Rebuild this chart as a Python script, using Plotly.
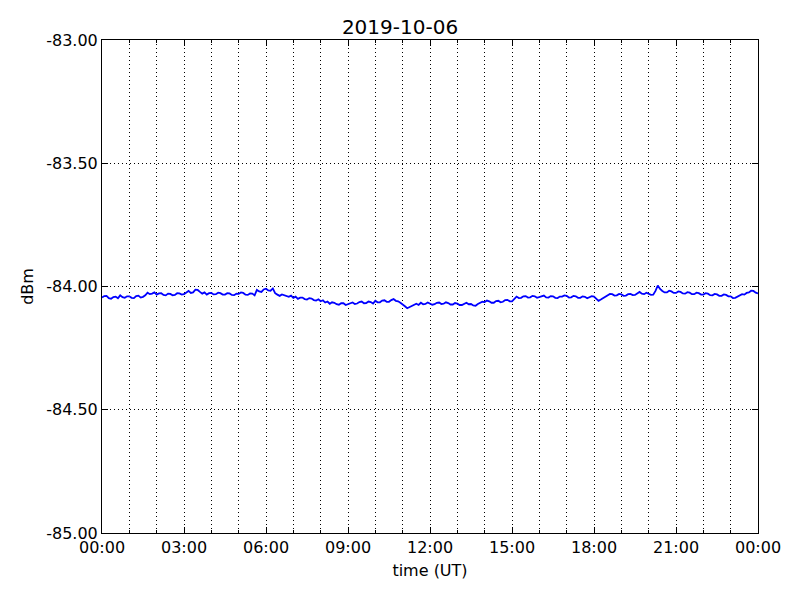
import plotly.graph_objects as go
import pandas as pd

title_text = "2019-10-06"
start_time = "2019-10-06 00:00"
end_time = "2019-10-07 00:00"

# 5-minute samples, one row per hour (dBm)
power_dbm = [
    -84.045, -84.039, -84.038, -84.047, -84.050, -84.043, -84.041, -84.048, -84.036, -84.043, -84.046, -84.040,
    -84.040, -84.046, -84.047, -84.039, -84.037, -84.045, -84.042, -84.036, -84.025, -84.031, -84.029, -84.024,
    -84.033, -84.028, -84.027, -84.034, -84.036, -84.029, -84.030, -84.036, -84.034, -84.027, -84.028, -84.033,
    -84.031, -84.025, -84.018, -84.026, -84.024, -84.013, -84.014, -84.022, -84.029, -84.024, -84.033, -84.027,
    -84.026, -84.032, -84.031, -84.025, -84.027, -84.033, -84.033, -84.027, -84.028, -84.034, -84.035, -84.029,
    -84.030, -84.024, -84.026, -84.033, -84.034, -84.028, -84.029, -84.036, -84.014, -84.020, -84.022, -84.012,
    -84.009, -84.016, -84.017, -84.008, -84.027, -84.033, -84.038, -84.032, -84.035, -84.041, -84.042, -84.037,
    -84.046, -84.041, -84.050, -84.045, -84.045, -84.051, -84.053, -84.047, -84.049, -84.055, -84.057, -84.052,
    -84.060, -84.056, -84.065, -84.061, -84.070, -84.064, -84.066, -84.072, -84.074, -84.068, -84.068, -84.075,
    -84.072, -84.066, -84.065, -84.071, -84.069, -84.063, -84.061, -84.068, -84.067, -84.061, -84.063, -84.069,
    -84.058, -84.064, -84.064, -84.057, -84.056, -84.062, -84.062, -84.055, -84.051, -84.058, -84.060, -84.066,
    -84.072, -84.080, -84.088, -84.083, -84.079, -84.073, -84.070, -84.075, -84.066, -84.072, -84.071, -84.065,
    -84.068, -84.074, -84.072, -84.066, -84.065, -84.071, -84.070, -84.064, -84.067, -84.073, -84.073, -84.067,
    -84.069, -84.075, -84.075, -84.069, -84.066, -84.072, -84.071, -84.077, -84.078, -84.071, -84.067, -84.062,
    -84.063, -84.057, -84.060, -84.066, -84.066, -84.059, -84.058, -84.064, -84.062, -84.055, -84.054, -84.060,
    -84.060, -84.050, -84.041, -84.047, -84.046, -84.040, -84.039, -84.045, -84.044, -84.038, -84.040, -84.046,
    -84.043, -84.037, -84.037, -84.044, -84.045, -84.039, -84.040, -84.046, -84.047, -84.041, -84.041, -84.036,
    -84.038, -84.045, -84.044, -84.038, -84.040, -84.046, -84.046, -84.040, -84.042, -84.048, -84.045, -84.039,
    -84.041, -84.050, -84.058, -84.053, -84.048, -84.040, -84.035, -84.030, -84.031, -84.037, -84.036, -84.030,
    -84.032, -84.038, -84.037, -84.031, -84.030, -84.035, -84.034, -84.028, -84.022, -84.029, -84.031, -84.025,
    -84.028, -84.034, -84.033, -84.018, -83.996, -84.010, -84.018, -84.024, -84.024, -84.017, -84.020, -84.026,
    -84.026, -84.020, -84.022, -84.028, -84.029, -84.023, -84.025, -84.031, -84.031, -84.025, -84.027, -84.033,
    -84.033, -84.027, -84.029, -84.035, -84.036, -84.030, -84.032, -84.038, -84.038, -84.032, -84.034, -84.040,
    -84.040, -84.047, -84.046, -84.040, -84.037, -84.031, -84.033, -84.026, -84.024, -84.017, -84.018, -84.025,
    -84.028,
]
times = pd.date_range(start_time, periods=len(power_dbm), freq="5min")

y_ticks = [-85.0, -84.5, -84.0, -83.5, -83.0]
y_tick_labels = ["-85.00", "-84.50", "-84.00", "-83.50", "-83.00"]

fig = go.Figure()
fig.add_trace(go.Scatter(x=times, y=power_dbm, mode="lines",
                         line=dict(color="#0000ff", width=1.8),
                         showlegend=False, hoverinfo="skip"))

font_family = "DejaVu Sans"
dotted = "1px,3px"
fig.update_layout(
    width=800, height=600,
    margin=dict(l=102, r=42, t=40, b=67),
    paper_bgcolor="white", plot_bgcolor="white",
    font=dict(family=font_family, size=16, color="black"),
    title=dict(text=title_text, x=0.5, xanchor="center", y=0.955, yanchor="middle",
               font=dict(size=20, family=font_family)),
)
fig.update_xaxes(
    range=[start_time, end_time],
    tickformat="%H:%M", dtick=3 * 3600000, tick0=start_time,
    tickfont=dict(size=16),
    showgrid=True, gridcolor="black", griddash=dotted, gridwidth=1,
    minor=dict(dtick=3600000, tick0=start_time, showgrid=True, gridcolor="black",
               griddash=dotted, gridwidth=1, ticks="inside", ticklen=3, tickcolor="black"),
    showline=True, linecolor="black", linewidth=1, mirror="ticks",
    ticks="inside", ticklen=6, tickcolor="black",
    title=dict(text="time (UT)", standoff=8, font=dict(size=16)),
    zeroline=False,
)
fig.update_yaxes(
    range=[-85, -83], tickvals=y_ticks, ticktext=y_tick_labels,
    tickfont=dict(size=16),
    showgrid=True, gridcolor="black", griddash=dotted, gridwidth=1,
    showline=True, linecolor="black", linewidth=1, mirror="ticks",
    ticks="inside", ticklen=6, tickcolor="black",
    title=dict(text="dBm", standoff=8, font=dict(size=16)),
    zeroline=False,
)

fig.write_html("out.html", config={"displayModeBar": False},
               post_script="document.body.style.margin='0px';")
